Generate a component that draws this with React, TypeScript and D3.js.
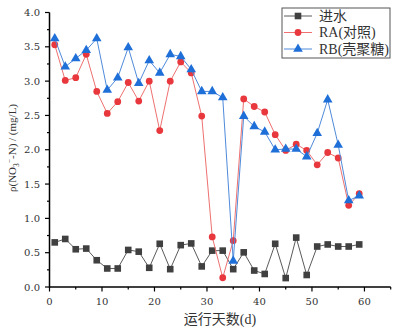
import React from "react";
import * as d3 from "d3";

const days = [1,3,5,7,9,11,13,15,17,19,21,23,25,27,29,31,33,35,37,39,41,43,45,47,49,51,53,55,57,59];
const inflow = [0.65,0.70,0.55,0.56,0.39,0.27,0.27,0.54,0.515,0.28,0.63,0.26,0.61,0.635,0.30,0.53,0.53,0.26,0.505,0.24,0.19,0.63,0.13,0.72,0.175,0.59,0.62,0.59,0.59,0.62];
const ra = [3.53,3.01,3.05,3.39,2.85,2.53,2.70,2.98,2.71,3.00,2.28,3.00,3.28,3.12,2.49,0.73,0.135,0.675,2.74,2.63,2.55,2.22,1.99,2.08,1.99,1.78,1.96,1.88,1.19,1.36];
const rb = [3.62,3.21,3.33,3.45,3.62,2.87,3.05,3.49,2.97,3.30,3.12,3.39,3.36,3.17,2.85,2.85,2.76,0.38,2.49,2.34,2.26,2.00,2.01,2.01,1.90,2.24,2.73,2.07,1.26,1.33];
const xTicks = [0,10,20,30,40,50,60];
const yTicks = [0,0.5,1,1.5,2,2.5,3,3.5,4];
const seriesNames = ["进水","RA(对照)","RB(壳聚糖)"];

const W = 403, H = 333;
const x = d3.scaleLinear().domain([0, 65]).range([49.5, 390.7]);
const y = d3.scaleLinear().domain([0, 4]).range([287, 12.5]);

const serifNum = "'DejaVu Serif', 'Liberation Serif', serif";
const times = "'Liberation Serif', serif";
const mixed = "'Liberation Serif', 'Noto Sans CJK SC', serif";

function Marker({ kind, cx, cy, color }: { kind: string; cx: number; cy: number; color: string }) {
  if (kind === "square") return <rect x={cx - 3.3} y={cy - 3.3} width={6.6} height={6.6} fill={color} />;
  if (kind === "circle") return <circle cx={cx} cy={cy} r={3.4} fill={color} />;
  const p = d3.symbol().type(d3.symbolTriangle).size(40)();
  return <path d={p || ""} transform={`translate(${cx},${cy})`} fill={color} />;
}

export default function App() {
  const series = [
    { name: seriesNames[0], vals: inflow, kind: "square", mColor: "#404040", lColor: "#5a5a5a" },
    { name: seriesNames[1], vals: ra, kind: "circle", mColor: "#e8383d", lColor: "#ee7070" },
    { name: seriesNames[2], vals: rb, kind: "triangle", mColor: "#1f6fd8", lColor: "#4f8ada" },
  ];
  const line = d3.line<number>().x((_, i) => x(days[i])).y((v) => y(v));
  const minorX = d3.range(5, 66, 10);
  const minorY = d3.range(0.25, 4, 0.5);
  const legendRows = [16, 32.5, 49];
  return (
    <svg width={W} height={H} style={{ position: "absolute", left: 0, top: 0, background: "#fff" }}>
      {series.map((s, si) => (
        <g key={si}>
          <path d={line(s.vals) || ""} fill="none" stroke={s.lColor} strokeWidth={1} />
          {s.vals.map((v, i) => (
            <Marker key={i} kind={s.kind} cx={x(days[i])} cy={y(v)} color={s.mColor} />
          ))}
        </g>
      ))}
      {/* axes */}
      <line x1={x(0)} x2={x(65)} y1={y(0)} y2={y(0)} stroke="#000" strokeWidth={1.5} />
      <line x1={x(0)} x2={x(0)} y1={y(0) + 0.75} y2={y(4)} stroke="#000" strokeWidth={1.5} />
      {xTicks.map((t) => (
        <g key={"xt" + t}>
          <line x1={x(t)} x2={x(t)} y1={y(0)} y2={y(0) + 4.5} stroke="#000" strokeWidth={1.2} />
          <text x={x(t)} y={305} textAnchor="middle" fontSize={10} fontFamily={serifNum} fill="#333">{t}</text>
        </g>
      ))}
      {minorX.map((t) => (
        <line key={"xm" + t} x1={x(t)} x2={x(t)} y1={y(0)} y2={y(0) + 2.5} stroke="#000" strokeWidth={1.2} />
      ))}
      {yTicks.map((t) => (
        <g key={"yt" + t}>
          <line x1={x(0) - 4.5} x2={x(0)} y1={y(t)} y2={y(t)} stroke="#000" strokeWidth={1.2} />
          <text x={40} y={y(t) + 3.6} textAnchor="end" fontSize={10} fontFamily={serifNum} fill="#333">{t.toFixed(1)}</text>
        </g>
      ))}
      {minorY.map((t) => (
        <line key={"ym" + t} x1={x(0) - 2.5} x2={x(0)} y1={y(t)} y2={y(t)} stroke="#000" strokeWidth={1.2} />
      ))}
      {/* axis titles */}
      <text x={220} y={324} textAnchor="middle" fontSize={14} fontFamily={mixed} fill="#333">运行天数(d)</text>
      <text transform={`translate(16,148) rotate(-90)`} textAnchor="middle" fontSize={11} fontFamily={times} fill="#333">
        ρ(NO<tspan fontSize={7.5} dy={2.5}>3</tspan><tspan fontSize={7.5} dy={-7}>−</tspan><tspan dy={4.5}>-N) / (mg/L)</tspan>
      </text>
      {/* legend */}
      <rect x={282} y={8} width={108} height={50} fill="#fff" stroke="#555" strokeWidth={1} />
      {series.map((s, i) => (
        <g key={"lg" + i}>
          <line x1={284} x2={312} y1={legendRows[i]} y2={legendRows[i]} stroke={s.lColor} strokeWidth={1} />
          <Marker kind={s.kind} cx={298} cy={legendRows[i]} color={s.mColor} />
          <text x={319} y={legendRows[i] + 4.8} fontSize={14} fontFamily={mixed} fill="#333">{s.name}</text>
        </g>
      ))}
    </svg>
  );
}
